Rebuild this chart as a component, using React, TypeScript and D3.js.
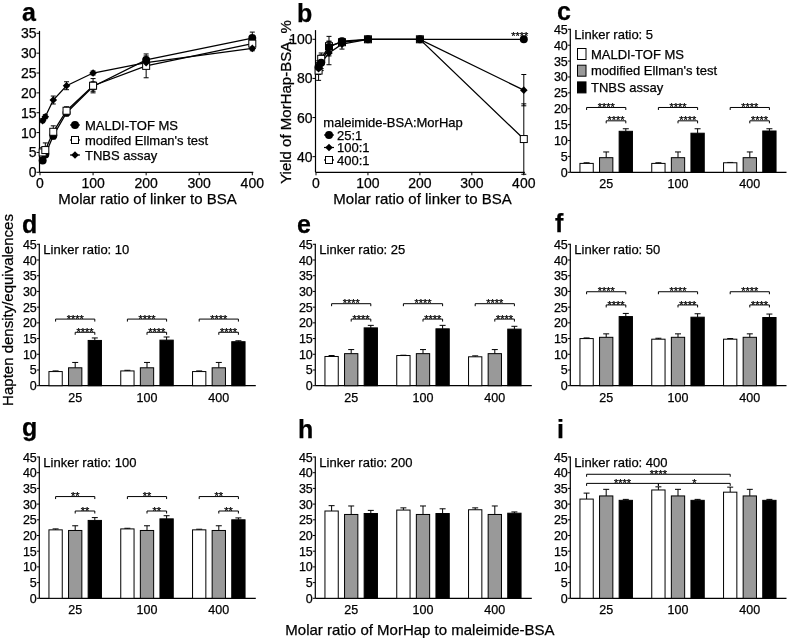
import React from "react";
import * as d3 from "d3";

// ---------- Panel a: hapten density vs linker ratio ----------
const linkerRatios = [5, 10, 25, 50, 100, 200, 400];
const maldiDensity = [3.0, 4.5, 9.2, 15.0, 21.6, 28.3, 33.8];
const maldiDensityErr = [0.3, 0.5, 0.8, 0.8, 1.2, 1.0, 1.5];
const ellmanDensity = [5.0, 5.6, 10.2, 15.5, 21.8, 26.8, 32.4];
const ellmanDensityErr = [1.2, 1.8, 1.5, 1.0, 1.8, 3.0, 1.5];
const tnbsDensity = [13.0, 14.0, 18.2, 21.8, 25.0, 27.6, 31.2];
const tnbsDensityErr = [0.5, 0.5, 1.0, 1.0, 0.5, 1.0, 0.6];
const aYTicks = [0, 5, 10, 15, 20, 25, 30, 35];
const xTicksLinker = [0, 100, 200, 300, 400];

// ---------- Panel b: yield ----------
const yield25 = [86, 88, 96, 99, 100, 100, 100];
const yield25Err = [2, 3, 3, 1.5, 0.5, 0.5, 0.5];
const yield100 = [85, 88, 93, 97.5, 100, 100, 74];
const yield100Err = [3, 4, 6, 2.5, 0.5, 0.5, 8];
const yield400 = [84, 90, 96.5, 98.5, 100, 100, 49];
const yield400Err = [5, 3, 5, 1.5, 0.5, 0.5, 18];
const bYTicks = [40, 60, 80, 100];

// ---------- Panels c-i: bar charts ----------
const morhapRatios = ["25", "100", "400"];
const panelLinker = [5, 10, 25, 50, 100, 200, 400];
const panelLetters = ["c", "d", "e", "f", "g", "h", "i"];
const maldiBars = [
  [2.8, 2.8, 3.0], [4.5, 4.7, 4.5], [9.3, 9.6, 9.2], [15.0, 14.8, 14.8],
  [21.8, 22.1, 21.8], [27.8, 28.1, 28.2], [31.6, 34.5, 33.8],
];
const maldiBarsErr = [
  [0.2, 0.2, 0.1], [0.2, 0.2, 0.2], [0.3, 0.1, 0.3], [0.2, 0.3, 0.2],
  [0.3, 0.2, 0.2], [1.7, 0.7, 0.6], [1.9, 1.0, 1.6],
];
const ellmanBars = [
  [4.6, 4.6, 4.6], [5.7, 5.7, 5.7], [10.2, 10.2, 10.2], [15.4, 15.4, 15.4],
  [21.6, 21.6, 21.6], [26.7, 26.7, 26.7], [32.6, 32.6, 32.6],
];
const ellmanBarsErr = [
  [1.8, 1.8, 1.8], [1.7, 1.7, 1.7], [1.3, 1.3, 1.3], [1.1, 1.1, 1.1],
  [1.5, 1.5, 1.5], [2.7, 2.7, 2.7], [2.1, 2.1, 2.1],
];
const tnbsBars = [
  [12.9, 12.3, 13.0], [14.4, 14.5, 14.0], [18.4, 18.1, 18.0], [22.0, 21.8, 21.7],
  [24.8, 25.3, 25.0], [27.0, 27.0, 27.1], [31.2, 31.2, 31.2],
];
const tnbsBarsErr = [
  [0.8, 1.4, 0.7], [0.8, 1.0, 0.3], [0.8, 1.1, 0.9], [1.0, 1.1, 1.1],
  [0.9, 1.0, 0.6], [1.0, 1.5, 0.4], [0.3, 0.3, 0.3],
];
const barYTicks = [0, 5, 10, 15, 20, 25, 30, 35, 40, 45];
// significance brackets (MALDI vs TNBS = long, Ellman vs TNBS = short)
const sigLongLevel = [20.4, 21.2, 26.1, 29.9, 32.4, null, null];
const sigShortLevel = [16.2, 17.0, 21.2, 25.7, 27.8, null, null];
const sigLabel = ["****", "****", "****", "****", "**", "", ""];
// panel i: MALDI comparisons between MorHap ratios
const iSigLevels = [39.5, 36.6, 36.6];
const iSigPairs = [[0, 2], [0, 1], [1, 2]];
const iSigLabels = ["****", "****", "*"];

const FONT = "'Liberation Sans', Arial, Helvetica, sans-serif";
const colX0 = [39.3, 315.3, 570.3];
const rowY = [
  [172.3, 29.3],
  [385.7, 244.3],
  [598.3, 457],
];
const panelPos = [
  [2, 0], [0, 1], [1, 1], [2, 1], [0, 2], [1, 2], [2, 2],
];
const letterPos: [number, number][] = [
  [557, 20], [22, 233], [297, 233], [555, 232], [22, 436], [298, 438], [557, 438],
];

function Marker({ kind, x, y }: { kind: string; x: number; y: number }) {
  if (kind === "circle") return <circle cx={x} cy={y} r={4} fill="#000" />;
  if (kind === "square")
    return <rect x={x - 3.5} y={y - 3.5} width={7} height={7} fill="#fff" stroke="#000" strokeWidth={1} />;
  const h = 3.8;
  return <path d={`M${x},${y - h}L${x + h},${y}L${x},${y + h}L${x - h},${y}Z`} fill="#000" />;
}

function LinePanel({
  xs, ys, series, yTicks, yDomainTop, tickSize,
}: any) {
  const line = d3.line<number>().x((_, i) => xs(linkerRatios[i])).y((d) => ys(d));
  return (
    <g>
      <line x1={xs.range()[0] - 0.5} x2={xs.range()[0] - 0.5} y1={ys.range()[0]} y2={ys(yDomainTop)} stroke="#000" strokeWidth={1.2} />
      <line x1={xs.range()[0] - 0.5} x2={xs.range()[1] + 1} y1={ys.range()[0]} y2={ys.range()[0]} stroke="#000" strokeWidth={1.2} />
      {yTicks.map((t: number) => (
        <g key={t}>
          <line x1={xs.range()[0] - 3.5} x2={xs.range()[0] - 0.5} y1={ys(t)} y2={ys(t)} stroke="#000" strokeWidth={1} />
          <text x={xs.range()[0] - 3.5} y={ys(t)} dy="0.36em" textAnchor="end" fontSize={tickSize}>{t}</text>
        </g>
      ))}
      {xTicksLinker.map((t) => (
        <g key={t}>
          <line x1={xs(t)} x2={xs(t)} y1={ys.range()[0]} y2={ys.range()[0] + 3} stroke="#000" strokeWidth={1} />
          <text x={xs(t)} y={ys.range()[0] + 16} textAnchor="middle" fontSize={tickSize}>{t}</text>
        </g>
      ))}
      {series.map((s: any, si: number) => (
        <path key={"l" + si} d={line(s.values) || ""} fill="none" stroke="#000" strokeWidth={1.3} />
      ))}
      {series.map((s: any, si: number) =>
        s.values.map((v: number, i: number) => {
          const x = xs(linkerRatios[i]);
          const e = s.err[i];
          return (
            <g key={"e" + si + "-" + i} stroke="#000" strokeWidth={1}>
              <line x1={x} x2={x} y1={ys(v - e)} y2={ys(v + e)} />
              <line x1={x - 2.5} x2={x + 2.5} y1={ys(v + e)} y2={ys(v + e)} />
              <line x1={x - 2.5} x2={x + 2.5} y1={ys(v - e)} y2={ys(v - e)} />
            </g>
          );
        })
      )}
      {series.map((s: any, si: number) =>
        s.values.map((v: number, i: number) => (
          <Marker key={"m" + si + "-" + i} kind={s.kind} x={xs(linkerRatios[i])} y={ys(v)} />
        ))
      )}
    </g>
  );
}

function BarPanel({ idx }: { idx: number }) {
  const [c, r] = panelPos[idx];
  const x0 = colX0[c];
  const [yb, yt] = rowY[r];
  const y = d3.scaleLinear().domain([0, 45]).range([yb, yt]);
  const band = d3.scaleBand().domain(morhapRatios).range([x0, x0 + 215.4]);
  const step = band.step();
  const xEnd = Math.min(x0 + 216.5, 786.5);
  const bw = 13.3;
  const off = 19.6;
  const groups = [
    { vals: maldiBars[idx], errs: maldiBarsErr[idx], fill: "#fff" },
    { vals: ellmanBars[idx], errs: ellmanBarsErr[idx], fill: "#999" },
    { vals: tnbsBars[idx], errs: tnbsBarsErr[idx], fill: "#000" },
  ];
  const center = (k: number) => (band(morhapRatios[k]) as number) + step / 2;
  const bracket = (xa: number, xb: number, lv: number, label: string, key: string) => {
    const yy = y(lv);
    return (
      <g key={key}>
        <path d={`M${xa},${yy + 2.5}V${yy}H${xb}V${yy + 2.5}`} fill="none" stroke="#000" strokeWidth={1} />
        <text x={(xa + xb) / 2} y={yy + 3.6} textAnchor="middle" fontSize={11}>{label}</text>
      </g>
    );
  };
  return (
    <g>
      <line x1={x0} x2={x0} y1={yb} y2={yt - 0.5} stroke="#000" strokeWidth={1.2} />
      <line x1={x0} x2={xEnd} y1={yb} y2={yb} stroke="#000" strokeWidth={1.2} />
      {barYTicks.map((t) => (
        <g key={t}>
          <line x1={x0 - 2.5} x2={x0} y1={y(t)} y2={y(t)} stroke="#000" strokeWidth={1} />
          <text x={x0 - 2.5} y={y(t)} dy="0.36em" textAnchor="end" fontSize={12.5}>{t}</text>
        </g>
      ))}
      {morhapRatios.map((m, k) => (
        <text key={m} x={center(k)} y={yb + 16} textAnchor="middle" fontSize={12.5}>{m}</text>
      ))}
      {groups.map((g, gi) =>
        g.vals.map((v, k) => {
          const cx = center(k) + (gi - 1) * off;
          const e = g.errs[k];
          return (
            <g key={gi + "-" + k}>
              <line x1={cx} x2={cx} y1={y(v)} y2={y(v + e)} stroke="#000" strokeWidth={1} />
              <line x1={cx - 3} x2={cx + 3} y1={y(v + e)} y2={y(v + e)} stroke="#000" strokeWidth={1} />
              <rect x={cx - bw / 2} y={y(v)} width={bw} height={yb - y(v)} fill={g.fill} stroke="#000" strokeWidth={1} />
            </g>
          );
        })
      )}
      {sigLongLevel[idx] != null &&
        morhapRatios.map((m, k) =>
          bracket(center(k) - off, center(k) + off, sigLongLevel[idx] as number, sigLabel[idx], "L" + k)
        )}
      {sigShortLevel[idx] != null &&
        morhapRatios.map((m, k) =>
          bracket(center(k), center(k) + off, sigShortLevel[idx] as number, sigLabel[idx], "S" + k)
        )}
      {idx === 6 &&
        iSigPairs.map((p, j) =>
          bracket(center(p[0]) - off, center(p[1]) - off, iSigLevels[j], iSigLabels[j], "I" + j)
        )}
      <text x={x0 + 4} y={yt + 9.5} fontSize={13}>{`Linker ratio: ${panelLinker[idx]}`}</text>
      {idx === 0 && (
        <g>
          {["MALDI-TOF MS", "modified Ellman's test", "TNBS assay"].map((lab, j) => (
            <g key={lab}>
              <rect x={577.5} y={54 + j * 16.7 - 5.5} width={8.5} height={11} fill={groups[j].fill} stroke="#000" strokeWidth={1} />
              <text x={591} y={54 + j * 16.7} dy="0.36em" fontSize={13}>{lab}</text>
            </g>
          ))}
        </g>
      )}
    </g>
  );
}

export default function App() {
  const ax = d3.scaleLinear().domain([0, 400]).range([40, 252.3]);
  const ay = d3.scaleLinear().domain([0, 35]).range([172.3, 33.3]);
  const bx = d3.scaleLinear().domain([0, 400]).range([316, 523.8]);
  const by = d3.scaleLinear().domain([32, 100]).range([172.3, 39.3]);

  const aSeries = [
    { values: maldiDensity, err: maldiDensityErr, kind: "circle" },
    { values: ellmanDensity, err: ellmanDensityErr, kind: "square" },
    { values: tnbsDensity, err: tnbsDensityErr, kind: "diamond" },
  ];
  const bSeries = [
    { values: yield400, err: yield400Err, kind: "square" },
    { values: yield100, err: yield100Err, kind: "diamond" },
    { values: yield25, err: yield25Err, kind: "circle" },
  ];
  const aLegend = [
    { kind: "circle", label: "MALDI-TOF MS" },
    { kind: "square", label: "modifed Ellman's test" },
    { kind: "diamond", label: "TNBS assay" },
  ];
  const bLegend = [
    { kind: "circle", label: "25:1" },
    { kind: "diamond", label: "100:1" },
    { kind: "square", label: "400:1" },
  ];

  return (
    <svg
      width={787}
      height={638}
      style={{ position: "absolute", left: 0, top: 0, willChange: "transform" }}
      fontFamily={FONT}
    >
      <style>{"text{stroke:#000;stroke-width:0.25px;fill:#000}"}</style>
      <rect width={787} height={638} fill="#fff" />
      <text x={22} y={21} fontSize={25} fontWeight="bold">a</text>
      <text x={297} y={21.5} fontSize={25} fontWeight="bold">b</text>
      {panelLetters.map((l, i) => (
        <text key={l} x={letterPos[i][0]} y={letterPos[i][1]} fontSize={25} fontWeight="bold">{l}</text>
      ))}

      {/* Panel a */}
      <LinePanel xs={ax} ys={ay} series={aSeries} yTicks={aYTicks} yDomainTop={35.6} tickSize={14} />
      {aLegend.map((l, j) => (
        <g key={l.label}>
          <line x1={70} x2={80} y1={125 + j * 15} y2={125 + j * 15} stroke="#000" strokeWidth={1.2} />
          <Marker kind={l.kind} x={75} y={125 + j * 15} />
          <text x={85} y={125 + j * 15} dy="0.36em" fontSize={13}>{l.label}</text>
        </g>
      ))}
      <text x={147.5} y={204} textAnchor="middle" fontSize={15}>Molar ratio of linker to BSA</text>

      {/* Panel b */}
      <LinePanel xs={bx} ys={by} series={bSeries} yTicks={bYTicks} yDomainTop={104.7} tickSize={14} />
      <text x={bx(400) - 4} y={40} textAnchor="middle" fontSize={11}>****</text>
      <text x={323.3} y={122} dy="0.36em" fontSize={13}>maleimide-BSA:MorHap</text>
      {bLegend.map((l, j) => (
        <g key={l.label}>
          <line x1={324} x2={334} y1={135 + j * 12.5} y2={135 + j * 12.5} stroke="#000" strokeWidth={1.2} />
          <Marker kind={l.kind} x={329} y={135 + j * 12.5} />
          <text x={337} y={135 + j * 12.5} dy="0.36em" fontSize={13}>{l.label}</text>
        </g>
      ))}
      <text x={422.5} y={204} textAnchor="middle" fontSize={15}>Molar ratio of linker to BSA</text>
      <text transform="translate(291,102) rotate(-90)" textAnchor="middle" fontSize={15}>Yield of MorHap-BSA, %</text>

      {/* Bar panels */}
      {panelLinker.map((_, i) => (
        <BarPanel key={i} idx={i} />
      ))}
      <text transform="translate(13,310) rotate(-90)" textAnchor="middle" fontSize={15}>Hapten density/equivalences</text>
      <text x={420} y={635} textAnchor="middle" fontSize={15}>Molar ratio of MorHap to maleimide-BSA</text>
    </svg>
  );
}
